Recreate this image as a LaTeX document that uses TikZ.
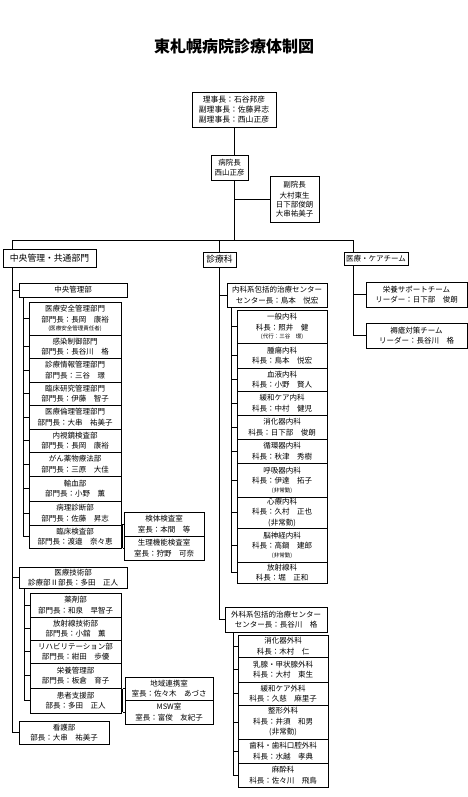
\documentclass[tikz,border=0pt]{standalone}
\usepackage{fontspec}
\usepackage{tikz}
\usetikzlibrary{positioning}
\newfontfamily\jp{Noto Sans CJK JP}
\tikzset{
  orgbox/.style={draw=black,fill=white,line width=0.8pt,outer sep=0pt,align=center,inner sep=1pt,font=\jp\fontsize{7.5}{10.5}\selectfont},
  headbox/.style={orgbox,font=\jp\fontsize{8.8}{10.5}\selectfont},
  cmchild/.style={orgbox,minimum width=92pt},
  mtchild/.style={orgbox,minimum width=91pt},
  imchild/.style={orgbox,minimum width=90pt},
  roomchild/.style={orgbox,minimum width=80pt},
  orgline/.style={line width=0.8pt,draw=black}
}
\newcommand\smallnote[1]{{\fontsize{5.5}{7}\selectfont #1}}

\begin{document}
\begin{tikzpicture}[x=1pt,y=-1pt]
  \useasboundingbox (0,0) rectangle (468,797);
  \node[font=\jp\bfseries\fontsize{16}{18}\selectfont] (title) at (234,46) {東札幌病院診療体制図};

  \node[orgbox,minimum width=84pt,minimum height=35pt,font=\jp\fontsize{7.8}{10}\selectfont] (chair) at (234,109.5)
    {理事長：石谷邦彦\\副理事長：佐藤昇志\\副理事長：西山正彦};
  \node[orgbox,minimum width=37pt,minimum height=25pt,font=\jp\fontsize{7.5}{9.5}\selectfont] (director) at (229.5,167.5) {病院長\\西山正彦};
  \node[orgbox,minimum width=49pt,minimum height=46pt,font=\jp\fontsize{7.5}{8.8}\selectfont] (vice) at (294.5,199)
    {副院長\\[3pt]大村東生\\日下部俊朗\\大串祐美子};
  \coordinate (busL) at (12,240);
  \coordinate (busR) at (353,240);

  % 中央管理・共通部門
  \node[headbox,minimum width=93pt,minimum height=18pt] (cmgen) at (49.5,258) {中央管理・共通部門};
  \node[orgbox,minimum width=108pt,minimum height=14pt] (centraldept) at (73,290) {中央管理部};
  \node[cmchild,minimum height=33pt,anchor=north] (safety) at (75,302) {医療安全管理部門\\部門長：長岡　康裕\\[-2pt]\smallnote{(医療安全管理責任者)}};
  \node[cmchild,minimum height=23pt,below=0pt of safety] (infection) {感染制御部門\\部門長：長谷川　格};
  \node[cmchild,minimum height=24pt,below=0pt of infection] (records) {診療情報管理部門\\部門長：三谷　璟};
  \node[cmchild,minimum height=23pt,below=0pt of records] (research) {臨床研究管理部門\\部門長：伊藤　智子};
  \node[cmchild,minimum height=24pt,below=0pt of research] (ethics) {医療倫理管理部門\\部門長：大串　祐美子};
  \node[cmchild,minimum height=23pt,below=0pt of ethics] (endoscopy) {内視鏡検査部\\部門長：長岡　康裕};
  \node[cmchild,minimum height=24pt,below=0pt of endoscopy] (chemo) {がん薬物療法部\\部門長：三原　大佳};
  \node[cmchild,minimum height=25pt,below=0pt of chemo] (transfusion) {輸血部\\部門長：小野　薫};
  \node[cmchild,minimum height=24pt,below=0pt of transfusion] (pathology) {病理診断部\\部門長：佐藤　昇志};
  \node[cmchild,minimum height=23pt,below=0pt of pathology] (lab) {臨床検査部\\部門長：渡邉　奈々恵};
  \node[roomchild,minimum height=24pt,anchor=north] (specimen) at (164,512) {検体検査室\\室長：本間　等};
  \node[roomchild,minimum height=24pt,below=0pt of specimen] (physio) {生理機能検査室\\室長：狩野　可奈};

  \node[orgbox,minimum width=108pt,minimum height=21pt] (medtech) at (73,577.5) {医療技術部\\診療部Ⅱ部長：多田　正人};
  \node[mtchild,minimum height=24pt,anchor=north] (pharmacy) at (75.5,593) {薬剤部\\部門長：和泉　早智子};
  \node[mtchild,minimum height=23pt,below=0pt of pharmacy] (radtech) {放射線技術部\\部門長：小舘　薫};
  \node[mtchild,minimum height=23pt,below=0pt of radtech] (rehab) {リハビリテーション部\\部門長：紺田　歩優};
  \node[mtchild,minimum height=25pt,below=0pt of rehab] (nutrmgmt) {栄養管理部\\部門長：板倉　育子};
  \node[mtchild,minimum height=25pt,below=0pt of nutrmgmt] (support) {患者支援部\\部長：多田　正人};
  \node[orgbox,minimum width=88pt,minimum height=23pt,anchor=north] (regional) at (169,677) {地域連携室\\室長：佐々木　あづさ};
  \node[orgbox,minimum width=88pt,minimum height=24pt,below=0pt of regional] (msw) {MSW室\\室長：富俊　友紀子};
  \node[orgbox,minimum width=90pt,minimum height=23pt] (nurse) at (64,732.5) {看護部\\部長：大串　祐美子};

  % 診療科
  \node[headbox,minimum width=33pt,minimum height=15pt] (clinic) at (219.5,259.5) {診療科};
  \node[orgbox,minimum width=100pt,minimum height=24pt] (intctr) at (277,295) {内科系包括的治療センター\\センター長：鳥本　悦宏};
  \node[imchild,minimum height=33pt,anchor=north] (general) at (282,310) {一般内科\\科長：照井　健\\[-2pt]\smallnote{(代行：三谷　璟)}};
  \node[imchild,minimum height=25pt,below=0pt of general] (oncology) {腫瘍内科\\科長：鳥本　悦宏};
  \node[imchild,minimum height=23pt,below=0pt of oncology] (hemat) {血液内科\\科長：小野　賢人};
  \node[imchild,minimum height=24pt,below=0pt of hemat] (palliative) {緩和ケア内科\\科長：中村　健児};
  \node[imchild,minimum height=24pt,below=0pt of palliative] (gastro) {消化器内科\\科長：日下部　俊朗};
  \node[imchild,minimum height=24pt,below=0pt of gastro] (cardio) {循環器内科\\科長：秋津　秀樹};
  \node[imchild,minimum height=34pt,below=0pt of cardio] (respir) {呼吸器内科\\科長：伊達　拓子\\[-2pt]\smallnote{(非常勤)}};
  \node[imchild,minimum height=31pt,below=0pt of respir] (psychosom) {心療内科\\科長：久村　正也\\(非常勤)};
  \node[imchild,minimum height=34pt,below=0pt of psychosom] (neuro) {脳神経内科\\科長：高鍋　建郎\\[-2pt]\smallnote{(非常勤)}};
  \node[imchild,minimum height=21pt,below=0pt of neuro] (radiol) {放射線科\\科長：堀　正和};

  \node[orgbox,minimum width=102pt,minimum height=25pt] (surgctr) at (276,619.5) {外科系包括的治療センター\\センター長：長谷川　格};
  \node[imchild,minimum height=22pt,anchor=north] (gisurg) at (283,635) {消化器外科\\科長：木村　仁};
  \node[imchild,minimum height=25pt,below=0pt of gisurg] (breast) {乳腺・甲状腺外科\\科長：大村　東生};
  \node[imchild,minimum height=23pt,below=0pt of breast] (palsurg) {緩和ケア外科\\科長：久慈　麻里子};
  \node[imchild,minimum height=34pt,below=0pt of palsurg] (ortho) {整形外科\\科長：井須　和男\\(非常勤)};
  \node[imchild,minimum height=24pt,below=0pt of ortho] (dental) {歯科・歯科口腔外科\\科長：水越　孝典};
  \node[imchild,minimum height=24pt,below=0pt of dental] (anesth) {麻酔科\\科長：佐々川　飛鳥};

  % 医療・ケアチーム
  \node[orgbox,minimum width=64pt,minimum height=13pt] (careteam) at (376,258.5) {医療・ケアチーム};
  \node[orgbox,minimum width=101pt,minimum height=25pt] (nutrition) at (416.5,294.5) {栄養サポートチーム\\リーダー：日下部　俊朗};
  \node[orgbox,minimum width=101pt,minimum height=25pt] (pressure) at (416.5,335.5) {褥瘡対策チーム\\リーダー：長谷川　格};

  % connectors
  \draw[orgline] (chair.south) -- (chair.south |- director.north);
  \draw[orgline] (director.south -| chair.south) -- (chair.south |- busL);
  \draw[orgline] (chair.south |- vice.west) -- (vice.west);
  \draw[orgline] (busL) -- (busR);
  \draw[orgline] (busL) -- (busL |- cmgen.north);
  \draw[orgline] (busL |- cmgen.south) -- (busL |- nurse.west) -- (nurse.west);
  \draw[orgline] (busL |- centraldept.west) -- (centraldept.west);
  \draw[orgline] (busL |- medtech.west) -- (medtech.west);

  \coordinate (cmspine) at (23,297);
  \draw[orgline] (cmspine) -- (cmspine |- lab.west);
  \foreach \n in {safety,infection,records,research,ethics,endoscopy,chemo,transfusion,pathology,lab}
    \draw[orgline] (cmspine |- \n.west) -- (\n.west);
  \coordinate (labjoin) at ([xshift=1.5pt]lab.east);
  \draw[orgline] (lab.east) -- (labjoin);
  \draw[orgline] (labjoin |- specimen.west) -- (labjoin |- physio.west);
  \foreach \n in {specimen,physio}
    \draw[orgline] (labjoin |- \n.west) -- (\n.west);

  \coordinate (mtspine) at (24,588);
  \draw[orgline] (mtspine) -- (mtspine |- support.west);
  \foreach \n in {pharmacy,radtech,rehab,nutrmgmt,support}
    \draw[orgline] (mtspine |- \n.west) -- (\n.west);
  \coordinate (supjoin) at ([xshift=1.5pt]support.east);
  \draw[orgline] (support.east) -- (supjoin);
  \draw[orgline] (supjoin |- regional.west) -- (supjoin |- msw.west);
  \foreach \n in {regional,msw}
    \draw[orgline] (supjoin |- \n.west) -- (\n.west);

  \draw[orgline] (busL -| clinic.north) -- (clinic.north);
  \draw[orgline] (clinic.south) -- (clinic.south |- surgctr.west) -- (surgctr.west);
  \draw[orgline] (clinic.south |- intctr.west) -- (intctr.west);
  \coordinate (imspine) at (231,307);
  \draw[orgline] (imspine) -- (imspine |- radiol.west);
  \foreach \n in {general,oncology,hemat,palliative,gastro,cardio,respir,psychosom,neuro,radiol}
    \draw[orgline] (imspine |- \n.west) -- (\n.west);
  \coordinate (sgspine) at (233,632);
  \draw[orgline] (sgspine) -- (sgspine |- anesth.west);
  \foreach \n in {gisurg,breast,palsurg,ortho,dental,anesth}
    \draw[orgline] (sgspine |- \n.west) -- (\n.west);

  \draw[orgline] (busR) -- (busR |- careteam.north);
  \draw[orgline] (busR |- careteam.south) -- (busR |- pressure.west) -- (pressure.west);
  \draw[orgline] (busR |- nutrition.west) -- (nutrition.west);
\end{tikzpicture}
\end{document}
